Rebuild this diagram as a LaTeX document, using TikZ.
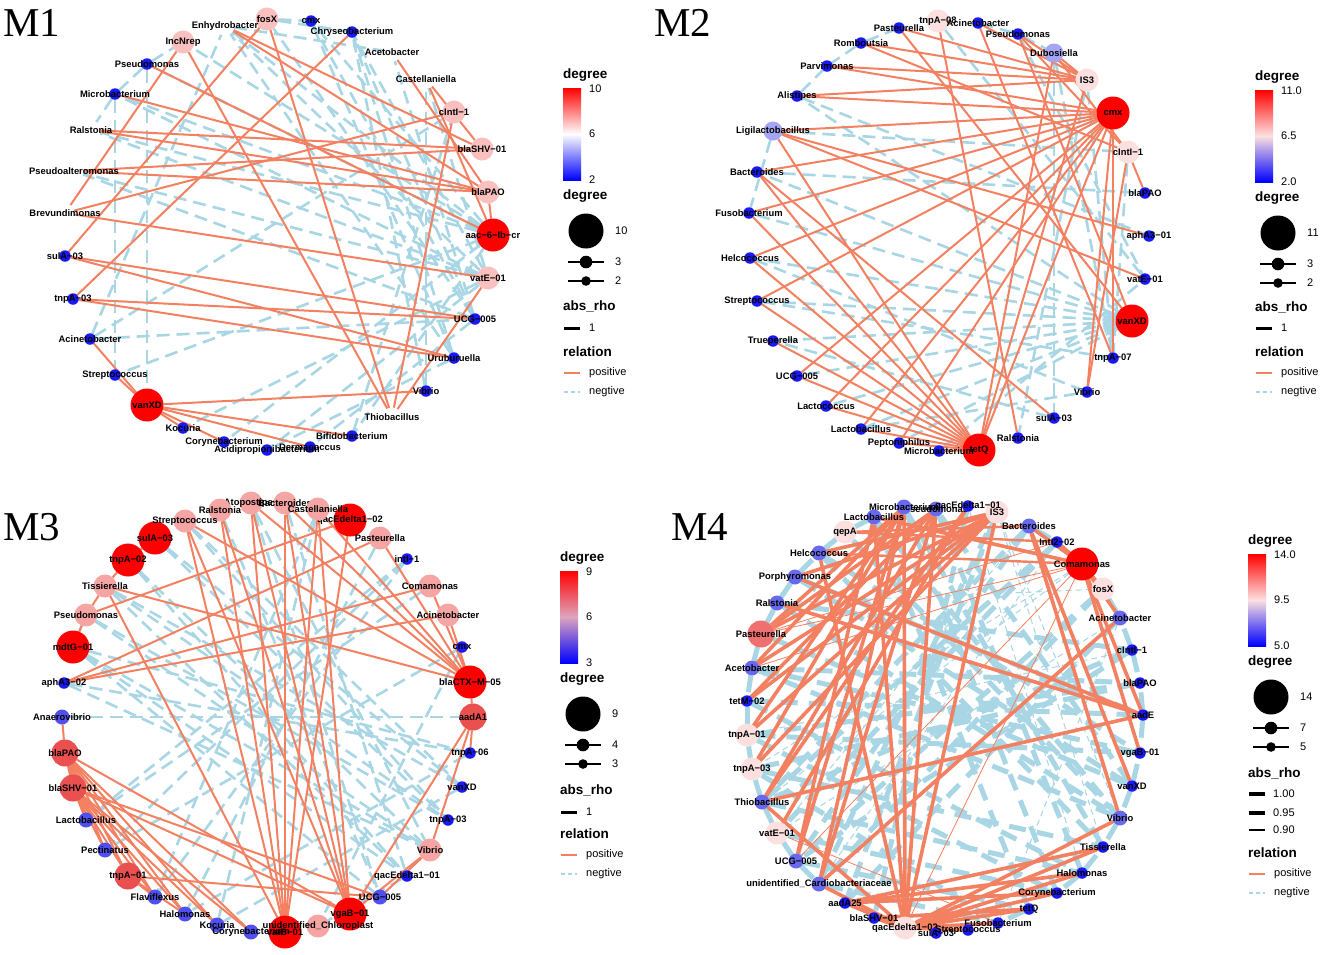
\documentclass[tikz,border=0pt]{standalone}
\usepackage{fontspec}
\setmainfont{Liberation Sans}
\newfontfamily\panelfont{Liberation Serif}
\usetikzlibrary{positioning}
\pgfdeclarelayer{background}
\pgfsetlayers{background,main}
\definecolor{posline}{RGB}{243,128,96}
\definecolor{negline}{RGB}{168,214,228}
\definecolor{nblue}{RGB}{25,25,245}
\definecolor{nblueB}{RGB}{80,80,240}
\definecolor{nlav}{RGB}{165,165,245}
\definecolor{nlavB}{RGB}{105,105,238}
\definecolor{npink}{RGB}{250,192,192}
\definecolor{npinkB}{RGB}{246,165,165}
\definecolor{npale}{RGB}{252,224,224}
\definecolor{nred}{RGB}{255,0,0}
\definecolor{nredB}{RGB}{234,80,80}
\definecolor{nredC}{RGB}{240,112,112}
\tikzset{
    vert/.style={circle, draw=none, inner sep=0pt, outer sep=0pt},
    n1/.style={vert, minimum size=11.5pt},
    n2/.style={vert, minimum size=15pt},
    n3/.style={vert, minimum size=19pt},
    n4/.style={vert, minimum size=23pt},
    n5/.style={vert, minimum size=27pt},
    n6/.style={vert, minimum size=33pt},
    lab/.style={font=\bfseries\fontsize{9.4}{10}\selectfont, inner sep=0pt, text=black},
    plink/.style={draw=posline, line width=2pt},
    nlink/.style={draw=negline, line width=2.6pt, dash pattern=on 13pt off 7pt},
    plinkW/.style={draw=posline, line width=3.6pt},
    plinkM/.style={draw=posline, line width=2.4pt},
    plinkT/.style={draw=posline, line width=0.8pt},
    nlinkW/.style={draw=negline, line width=5pt, dash pattern=on 17pt off 11pt},
    nlinkT/.style={draw=negline, line width=1pt, dash pattern=on 6pt off 4pt},
    keytitle/.style={anchor=west, inner sep=0pt, font=\bfseries\fontsize{13.5}{15}\selectfont},
    keynum/.style={anchor=west, inner sep=0pt, font=\fontsize{11}{12}\selectfont},
    paneltitle/.style={inner sep=0pt, font=\panelfont\fontsize{41}{45}\selectfont},
}
% colour bar and size key of one panel
\newcommand{\DegreeKey}[9]{%
    \node[keytitle] (#1deg) at (#2,#3) {degree};
    \shade[top color=nred, bottom color=blue, middle color=barmid] (#2,#3+13) rectangle (#2+18,#3+105);
    \node[keynum] (#1top) at (#2+26,#3+14) {#4};
    \node[keynum] (#1mid) at (#2+26,#3+59) {#5};
    \node[keynum] (#1bot) at (#2+26,#3+105) {#6};
    \node[keytitle] (#1size) at (#2,#3+121) {degree};
    \fill (#2+23,#3+156) circle (17.5pt);
    \node[keynum] (#1big) at (#2+52,#3+156) {#7};
    \draw[line width=1.2pt] (#2+5,#3+187) -- (#2+41,#3+187);
    \fill (#2+23,#3+187) circle (6.3pt);
    \node[keynum] (#1med) at (#2+52,#3+187) {#8};
    \draw[line width=1.2pt] (#2+5,#3+206) -- (#2+41,#3+206);
    \fill (#2+23,#3+206) circle (4.8pt);
    \node[keynum] (#1small) at (#2+52,#3+206) {#9};
}
\newcommand{\RelationKey}[3]{%
    \node[keytitle] (#1rel) at (#2,#3) {relation};
    \draw[posline, line width=1.3pt] (#2+1,#3+21) -- (#2+17,#3+21);
    \node[keynum] (#1pos) at (#2+26,#3+21) {positive};
    \draw[negline, line width=1.3pt, dash pattern=on 4pt off 3pt] (#2+1,#3+40) -- (#2+17,#3+40);
    \node[keynum] (#1neg) at (#2+26,#3+40) {negtive};
}

\begin{document}
\begin{tikzpicture}[x=1pt, y=-1pt]
    \useasboundingbox (0,0) rectangle (1325,954);
    \begin{pgfonlayer}{background}
      \fill[white] (0,0) rectangle (1325,954);
    \end{pgfonlayer}

    % ---------------- M1 ----------------
    \node[paneltitle] (m1name) at (32,23) {M1};
    \node[n6, fill=nred, label={[lab]center:aac−6−Ib−cr}] (m1aac) at (493,235) {};
    \node[n6, fill=nred, label={[lab]center:vanXD}] (m1vanXD) at (147,405) {};
    \node[n4, fill=npink, label={[lab]center:fosX}] (m1fosX) at (267,19) {};
    \node[n4, fill=npink, label={[lab]center:IncNrep}] (m1IncNrep) at (183,42) {};
    \node[n4, fill=npink, label={[lab]center:cIntI−1}] (m1cIntI) at (454,112) {};
    \node[n4, fill=npink, label={[lab]center:blaSHV−01}] (m1blaSHV) at (482,149) {};
    \node[n4, fill=npink, label={[lab]center:blaPAO}] (m1blaPAO) at (488,192) {};
    \node[n4, fill=npink, label={[lab]center:vatE−01}] (m1vatE) at (488,278) {};
    \node[n3, fill=white, label={[lab]center:Enhydrobacter}] (m1Enhydro) at (225,26) {};
    \node[n3, fill=white, label={[lab]center:Acetobacter}] (m1Acetob) at (392,52) {};
    \node[n3, fill=white, label={[lab]center:Castellaniella}] (m1Castel) at (426,79) {};
    \node[n3, fill=white, label={[lab]center:Ralstonia}] (m1Ralst) at (91,130) {};
    \node[n3, fill=white, label={[lab]center:Pseudoalteromonas}] (m1Pseudoalt) at (74,171) {};
    \node[n3, fill=white, label={[lab]center:Brevundimonas}] (m1Brevund) at (65,213) {};
    \node[n3, fill=white, label={[lab]center:Thiobacillus}] (m1Thiob) at (392,417) {};
    \node[n1, fill=nblue, label={[lab]center:cmx}] (m1cmx) at (311,21) {};
    \node[n1, fill=nblue, label={[lab]center:Chryseobacterium}] (m1Chryseo) at (352,32) {};
    \node[n1, fill=nblue, label={[lab]center:Pseudomonas}] (m1Pseudo) at (147,64) {};
    \node[n1, fill=nblue, label={[lab]center:Microbacterium}] (m1Microb) at (115,94) {};
    \node[n1, fill=nblue, label={[lab]center:sulA−03}] (m1sulA) at (65,256) {};
    \node[n1, fill=nblue, label={[lab]center:tnpA−03}] (m1tnpA03) at (73,299) {};
    \node[n1, fill=nblue, label={[lab]center:UCG−005}] (m1UCG) at (475,319) {};
    \node[n1, fill=nblue, label={[lab]center:Acinetobacter}] (m1Acineto) at (90,339) {};
    \node[n1, fill=nblue, label={[lab]center:Uruburuella}] (m1Urubu) at (454,358) {};
    \node[n1, fill=nblue, label={[lab]center:Streptococcus}] (m1Strepto) at (115,375) {};
    \node[n1, fill=nblue, label={[lab]center:Vibrio}] (m1Vibrio) at (426,391) {};
    \node[n1, fill=nblue, label={[lab]center:Kocuria}] (m1Kocuria) at (183,428) {};
    \node[n1, fill=nblue, label={[lab]center:Bifidobacterium}] (m1Bifido) at (352,436) {};
    \node[n1, fill=nblue, label={[lab]center:Corynebacterium}] (m1Coryne) at (224,442) {};
    \node[n1, fill=nblue, label={[lab]center:Dermacoccus}] (m1Derma) at (310,447) {};
    \node[n1, fill=nblue, label={[lab]center:Acidipropionibacterium}] (m1Acidi) at (267,450) {};

    \begin{pgfonlayer}{background}
      \path[nlink] (m1aac) edge (m1Pseudo) edge (m1Microb) edge (m1Ralst) edge (m1Enhydro) edge (m1cmx) edge (m1Strepto) edge (m1Bifido) edge (m1Coryne) edge (m1IncNrep);
      \path[nlink] (m1vatE) edge (m1Microb) edge (m1Chryseo) edge (m1Pseudoalt) edge (m1Acidi) edge (m1Kocuria) edge (m1Castel) edge (m1Enhydro) edge (m1Ralst);
      \path[nlink] (m1UCG) edge (m1Chryseo) edge (m1cmx) edge (m1Derma) edge (m1Acineto) edge (m1Acetob) edge (m1fosX) edge (m1Pseudoalt);
      \path[nlink] (m1Urubu) edge (m1cmx) edge (m1Acidi) edge (m1Enhydro) edge (m1Chryseo);
      \path[nlink] (m1Pseudo) edge (m1vanXD) edge (m1IncNrep) edge (m1Microb);
      \path[nlink] (m1Microb) edge (m1Strepto) edge (m1Ralst);
      \path[nlink] (m1Acineto) edge (m1cIntI) edge (m1Enhydro);
      \path[nlink] (m1Vibrio) edge (m1Castel) edge (m1Chryseo);
      \path[nlink] (m1fosX) edge (m1Chryseo) edge (m1cmx);
      \path[nlink] (m1Enhydro) edge (m1Acetob);
      \path[nlink] (m1Bifido) edge (m1cIntI);

      \path[plink] (m1Thiob) edge (m1IncNrep) edge (m1fosX) edge (m1cIntI) edge (m1vatE);
      \path[plink] (m1fosX) edge (m1sulA);
      \path[plink] (m1Chryseo) edge (m1tnpA03);
      \path[plink] (m1IncNrep) edge (m1Brevund);
      \path[plink] (m1Enhydro) edge (m1blaPAO) edge (m1blaSHV);
      \path[plink] (m1Acetob) edge (m1blaPAO);
      \path[plink] (m1Castel) edge (m1blaSHV) edge (m1aac);
      \path[plink] (m1Pseudo) edge (m1aac);
      \path[plink] (m1Microb) edge (m1blaPAO);
      \path[plink] (m1Ralst) edge (m1blaSHV) edge (m1blaPAO);
      \path[plink] (m1Pseudoalt) edge (m1blaSHV) edge (m1blaPAO);
      \path[plink] (m1Brevund) edge (m1cIntI) edge (m1vatE);
      \path[plink] (m1sulA) edge (m1UCG) edge (m1Urubu);
      \path[plink] (m1tnpA03) edge (m1UCG) edge (m1Urubu);
      \path[plink] (m1vanXD) edge (m1Acineto) edge (m1Strepto) edge (m1Vibrio) edge (m1Bifido) edge (m1Derma) edge (m1Kocuria) edge (m1Coryne);
      \path[plink] (m1aac) edge (m1blaPAO);
    \end{pgfonlayer}

    \colorlet{barmid}{white}
    \DegreeKey{m1k}{563}{75}{10}{6}{2}{10}{3}{2}
    \node[keytitle] (m1krho) at (563,306) {abs\_rho};
    \draw[line width=3pt] (564,328) -- (580,328);
    \node[keynum] (m1kone) at (589,328) {1};
    \RelationKey{m1k}{563}{352}

    % ---------------- M2 ----------------
    \node[paneltitle] (m2name) at (683,23) {M2};
    \node[n6, fill=nred, label={[lab]center:cmx}] (m2cmx) at (1113,113) {};
    \node[n6, fill=nred, label={[lab]center:vanXD}] (m2vanXD) at (1132,321) {};
    \node[n6, fill=nred, label={[lab]center:tetQ}] (m2tetQ) at (979,450) {};
    \node[n4, fill=npale, label={[lab]center:tnpA−08}] (m2tnpA08) at (938,21) {};
    \node[n4, fill=npale, label={[lab]center:IS3}] (m2IS3) at (1087,80) {};
    \node[n4, fill=npale, label={[lab]center:cIntI−1}] (m2cIntI) at (1128,152) {};
    \node[n3, fill=nlav, label={[lab]center:Dubosiella}] (m2Dubos) at (1054,53) {};
    \node[n3, fill=nlav, label={[lab]center:Ligilactobacillus}] (m2Ligilac) at (773,131) {};
    \node[n1, fill=nblue, label={[lab]center:Pasteurella}] (m2Paste) at (899,28) {};
    \node[n1, fill=nblue, label={[lab]center:Acinetobacter}] (m2Acineto) at (978,23) {};
    \node[n1, fill=nblue, label={[lab]center:Pseudomonas}] (m2Pseudo) at (1018,34) {};
    \node[n1, fill=nblue, label={[lab]center:Romboutsia}] (m2Rombo) at (861,43) {};
    \node[n1, fill=nblue, label={[lab]center:Parvimonas}] (m2Parvi) at (827,66) {};
    \node[n1, fill=nblue, label={[lab]center:Alistipes}] (m2Alist) at (797,96) {};
    \node[n1, fill=nblue, label={[lab]center:Bacteroides}] (m2Bactero) at (757,172) {};
    \node[n1, fill=nblue, label={[lab]center:blaPAO}] (m2blaPAO) at (1145,193) {};
    \node[n1, fill=nblue, label={[lab]center:Fusobacterium}] (m2Fuso) at (749,213) {};
    \node[n1, fill=nblue, label={[lab]center:aphA3−01}] (m2aphA3) at (1149,236) {};
    \node[n1, fill=nblue, label={[lab]center:Helcococcus}] (m2Helco) at (750,258) {};
    \node[n1, fill=nblue, label={[lab]center:vatE−01}] (m2vatE) at (1145,279) {};
    \node[n1, fill=nblue, label={[lab]center:Streptococcus}] (m2Strepto) at (757,301) {};
    \node[n1, fill=nblue, label={[lab]center:Trueperella}] (m2Truep) at (773,341) {};
    \node[n1, fill=nblue, label={[lab]center:tnpA−07}] (m2tnpA07) at (1113,358) {};
    \node[n1, fill=nblue, label={[lab]center:UCG−005}] (m2UCG) at (797,376) {};
    \node[n1, fill=nblue, label={[lab]center:Vibrio}] (m2Vibrio) at (1087,392) {};
    \node[n1, fill=nblue, label={[lab]center:Lactococcus}] (m2Lactoco) at (826,406) {};
    \node[n1, fill=nblue, label={[lab]center:sulA−03}] (m2sulA) at (1054,418) {};
    \node[n1, fill=nblue, label={[lab]center:Lactobacillus}] (m2Lactoba) at (861,429) {};
    \node[n1, fill=nblue, label={[lab]center:Ralstonia}] (m2Ralst) at (1018,438) {};
    \node[n1, fill=nblue, label={[lab]center:Peptoniphilus}] (m2Pepto) at (899,443) {};
    \node[n1, fill=nblue, label={[lab]center:Microbacterium}] (m2Microb) at (939,451) {};

    \begin{pgfonlayer}{background}
      \path[nlink] (m2vanXD) edge (m2Strepto) edge (m2Truep) edge (m2UCG) edge (m2Helco) edge (m2Fuso) edge (m2Bactero) edge (m2Lactoco) edge (m2Lactoba) edge (m2Pepto) edge (m2Alist);
      \path[nlink] (m2Rombo) edge (m2Paste) edge (m2Parvi);
      \path[nlink] (m2Alist) edge (m2Parvi) edge (m2aphA3);
      \path[nlink] (m2Pseudo) edge (m2Acineto) edge (m2Dubos) edge (m2vatE);
      \path[nlink] (m2Dubos) edge (m2sulA) edge (m2tnpA07);
      \path[nlink] (m2Ligilac) edge (m2cIntI) edge (m2Fuso);
      \path[nlink] (m2Bactero) edge (m2blaPAO);
      \path[nlink] (m2tnpA08) edge (m2vatE);
      \path[nlink] (m2IS3) edge (m2tnpA07) edge (m2Ralst);
      \path[nlink] (m2Microb) edge (m2vatE);
      \path[nlink] (m2Helco) edge (m2Vibrio);
      \path[nlink] (m2Strepto) edge (m2tnpA07);
      \path[nlink] (m2sulA) edge (m2Truep);
      \path[nlink] (m2Lactoba) edge (m2Vibrio);
      \path[nlink] (m2cIntI) edge (m2tnpA07);

      \path[plink] (m2cmx) edge (m2Alist) edge (m2Parvi) edge (m2Ligilac) edge (m2Bactero) edge (m2Fuso) edge (m2Helco) edge (m2Strepto) edge (m2UCG) edge (m2Lactoco) edge (m2Lactoba) edge (m2Pepto) edge (m2tnpA07) edge (m2Vibrio) edge (m2tetQ);
      \path[plink] (m2IS3) edge (m2Paste) edge (m2Rombo) edge (m2Parvi) edge (m2Alist) edge (m2Dubos) edge (m2Acineto) edge (m2Pseudo);
      \path[plink] (m2cIntI) edge (m2Rombo) edge (m2Pseudo) edge (m2Vibrio) edge (m2blaPAO) edge (m2Dubos);
      \path[plink] (m2tetQ) edge (m2Ligilac) edge (m2Fuso) edge (m2Helco) edge (m2Strepto) edge (m2Truep) edge (m2UCG) edge (m2Lactoco) edge (m2Lactoba) edge (m2Pepto) edge (m2Microb) edge (m2IS3) edge (m2Dubos) edge (m2Bactero);
      \path[plink] (m2tnpA08) edge (m2Ralst);
      \path[plink] (m2vanXD) edge (m2Paste) edge (m2Pseudo);
      \path[plink] (m2Ligilac) edge (m2aphA3) edge (m2vatE);
      \path[plink] (m2Bactero) edge (m2sulA);
      \path[plink] (m2Acineto) edge (m2tnpA07);
    \end{pgfonlayer}

    \colorlet{barmid}{npale}
    \DegreeKey{m2k}{1255}{77}{11.0}{6.5}{2.0}{11}{3}{2}
    \node[keytitle] (m2krho) at (1255,307) {abs\_rho};
    \draw[line width=3pt] (1256,328) -- (1272,328);
    \node[keynum] (m2kone) at (1281,328) {1};
    \RelationKey{m2k}{1255}{352}

    % ---------------- M3 ----------------
    \node[paneltitle] (m3name) at (32,527) {M3};
    \node[n6, fill=nred, label={[lab]center:qacEdelta1−02}] (m3qacE02) at (350,520) {};
    \node[n6, fill=nred, label={[lab]center:sulA−03}] (m3sulA) at (155,538) {};
    \node[n6, fill=nred, label={[lab]center:tnpA−02}] (m3tnpA02) at (128,560) {};
    \node[n6, fill=nred, label={[lab]center:mdtG−01}] (m3mdtG) at (73,647) {};
    \node[n6, fill=nred, label={[lab]center:blaCTX−M−05}] (m3blaCTX) at (470,682) {};
    \node[n6, fill=nred, label={[lab]center:vgaB−01}] (m3vgaB) at (350,914) {};
    \node[n6, fill=nred, label={[lab]center:vatB−01}] (m3vatB) at (285,932) {};
    \node[n5, fill=nredB, label={[lab]center:aadA1}] (m3aadA1) at (473,717) {};
    \node[n5, fill=nredB, label={[lab]center:blaPAO}] (m3blaPAO) at (65,753) {};
    \node[n5, fill=nredB, label={[lab]center:blaSHV−01}] (m3blaSHV) at (73,788) {};
    \node[n5, fill=nredB, label={[lab]center:tnpA−01}] (m3tnpA01) at (128,876) {};
    \node[n4, fill=npinkB, label={[lab]center:Atopostipes}] (m3Atopo) at (251,503) {};
    \node[n4, fill=npinkB, label={[lab]center:Bacteroides}] (m3Bactero) at (285,503) {};
    \node[n4, fill=npinkB, label={[lab]center:Ralstonia}] (m3Ralst) at (220,510) {};
    \node[n4, fill=npinkB, label={[lab]center:Castellaniella}] (m3Castel) at (318,509) {};
    \node[n4, fill=npinkB, label={[lab]center:Streptococcus}] (m3Strepto) at (185,521) {};
    \node[n4, fill=npinkB, label={[lab]center:Pasteurella}] (m3Paste) at (380,538) {};
    \node[n4, fill=npinkB, label={[lab]center:Tissierella}] (m3Tissi) at (105,586) {};
    \node[n4, fill=npinkB, label={[lab]center:Comamonas}] (m3Comam) at (430,586) {};
    \node[n4, fill=npinkB, label={[lab]center:Pseudomonas}] (m3Pseudo) at (86,615) {};
    \node[n4, fill=npinkB, label={[lab]center:Acinetobacter}] (m3Acineto) at (448,615) {};
    \node[n4, fill=npinkB, label={[lab]center:Vibrio}] (m3Vibrio) at (430,850) {};
    \node[n4, fill=npinkB, label={[lab]center:unidentified\_Chloroplast}] (m3Chloro) at (318,926) {};
    \node[n2, fill=nblueB, label={[lab]center:Anaerovibrio}] (m3Anaero) at (62,717) {};
    \node[n2, fill=nblueB, label={[lab]center:Lactobacillus}] (m3Lactob) at (86,820) {};
    \node[n2, fill=nblueB, label={[lab]center:Pectinatus}] (m3Pectin) at (105,850) {};
    \node[n2, fill=nblueB, label={[lab]center:Flaviflexus}] (m3Flavi) at (155,897) {};
    \node[n2, fill=nblueB, label={[lab]center:UCG−005}] (m3UCG) at (380,897) {};
    \node[n2, fill=nblueB, label={[lab]center:Halomonas}] (m3Halo) at (185,914) {};
    \node[n2, fill=nblueB, label={[lab]center:Kocuria}] (m3Kocuria) at (217,925) {};
    \node[n2, fill=nblueB, label={[lab]center:Corynebacterium}] (m3Coryne) at (251,932) {};
    \node[n1, fill=nblue, label={[lab]center:intI−1}] (m3intI) at (407,559) {};
    \node[n1, fill=nblue, label={[lab]center:cmx}] (m3cmx) at (462,647) {};
    \node[n1, fill=nblue, label={[lab]center:aphA3−02}] (m3aphA3) at (64,683) {};
    \node[n1, fill=nblue, label={[lab]center:tnpA−06}] (m3tnpA06) at (470,753) {};
    \node[n1, fill=nblue, label={[lab]center:vanXD}] (m3vanXD) at (462,787) {};
    \node[n1, fill=nblue, label={[lab]center:tnpA−03}] (m3tnpA03) at (448,820) {};
    \node[n1, fill=nblue, label={[lab]center:qacEdelta1−01}] (m3qacE01) at (407,876) {};

    \begin{pgfonlayer}{background}
      \path[nlink] (m3Anaero) edge (m3aadA1);
      \path[nlink] (m3mdtG) edge (m3Pseudo) edge (m3Vibrio) edge (m3UCG) edge (m3tnpA06) edge (m3qacE01);
      \path[nlink] (m3Pseudo) edge (m3tnpA03) edge (m3Vibrio);
      \path[nlink] (m3Tissi) edge (m3qacE01) edge (m3vanXD) edge (m3tnpA03);
      \path[nlink] (m3tnpA02) edge (m3Vibrio) edge (m3qacE01);
      \path[nlink] (m3sulA) edge (m3vanXD) edge (m3tnpA03);
      \path[nlink] (m3aphA3) edge (m3tnpA06) edge (m3Vibrio);
      \path[nlink] (m3Strepto) edge (m3tnpA03) edge (m3vanXD);
      \path[nlink] (m3Atopo) edge (m3Vibrio) edge (m3UCG);
      \path[nlink] (m3Bactero) edge (m3qacE01);
      \path[nlink] (m3Ralst) edge (m3UCG);
      \path[nlink] (m3Castel) edge (m3Kocuria) edge (m3Flavi);
      \path[nlink] (m3Paste) edge (m3Halo);
      \path[nlink] (m3intI) edge (m3Flavi) edge (m3Lactob) edge (m3Pectin);
      \path[nlink] (m3cmx) edge (m3Pectin) edge (m3Chloro);
      \path[nlink] (m3Comam) edge (m3Lactob);
      \path[nlink] (m3tnpA06) edge (m3Halo);
      \path[nlink] (m3vanXD) edge (m3Kocuria);
      \path[nlink] (m3qacE01) edge (m3Chloro);

      \path[plink] (m3vatB) edge (m3Strepto) edge (m3Ralst) edge (m3Atopo) edge (m3Bactero) edge (m3Castel) edge (m3qacE02) edge (m3Tissi);
      \path[plink] (m3vgaB) edge (m3Ralst) edge (m3Atopo) edge (m3Bactero) edge (m3Castel) edge (m3blaPAO) edge (m3blaSHV) edge (m3aadA1) edge (m3Vibrio) edge (m3Strepto);
      \path[plink] (m3blaCTX) edge (m3Strepto) edge (m3Bactero) edge (m3Castel) edge (m3Paste) edge (m3Tissi) edge (m3Comam) edge (m3Acineto) edge (m3aadA1) edge (m3Atopo);
      \path[plink] (m3aphA3) edge (m3Paste) edge (m3Comam) edge (m3Acineto);
      \path[plink] (m3Pseudo) edge (m3qacE02) edge (m3Tissi) edge (m3mdtG);
      \path[plink] (m3tnpA02) edge (m3sulA) edge (m3Tissi);
      \path[plink] (m3blaPAO) edge (m3Anaero) edge (m3blaSHV) edge (m3Lactob) edge (m3Pectin) edge (m3tnpA01) edge (m3Flavi) edge (m3Halo) edge (m3Kocuria) edge (m3Coryne);
      \path[plink] (m3blaSHV) edge (m3Lactob) edge (m3Pectin) edge (m3tnpA01) edge (m3Flavi) edge (m3Halo) edge (m3Kocuria) edge (m3Coryne) edge (m3UCG);
      \path[plink] (m3tnpA01) edge (m3Flavi) edge (m3Halo) edge (m3UCG);
      \path[plink] (m3aadA1) edge (m3tnpA06) edge (m3Vibrio);
      \path[plink] (m3Vibrio) edge (m3UCG);
    \end{pgfonlayer}

    \colorlet{barmid}{npinkB!70!nlav}
    \DegreeKey{m3k}{560}{558}{9}{6}{3}{9}{4}{3}
    \node[keytitle] (m3krho) at (560,790) {abs\_rho};
    \draw[line width=3pt] (561,812) -- (577,812);
    \node[keynum] (m3kone) at (586,812) {1};
    \RelationKey{m3k}{560}{834}

    % ---------------- M4 ----------------
    \node[paneltitle] (m4name) at (700,527) {M4};
    \node[n6, fill=nred, label={[lab]center:Comamonas}] (m4Comam) at (1082,564) {};
    \node[n5, fill=nredC, label={[lab]center:Pasteurella}] (m4Paste) at (761,634) {};
    \node[n4, fill=npale, label={[lab]center:IS3}] (m4IS3) at (997,512) {};
    \node[n4, fill=npale, label={[lab]center:qepA}] (m4qepA) at (845,532) {};
    \node[n4, fill=npale, label={[lab]center:fosX}] (m4fosX) at (1103,589) {};
    \node[n4, fill=npale, label={[lab]center:tnpA−01}] (m4tnpA01) at (747,735) {};
    \node[n4, fill=npale, label={[lab]center:tnpA−03}] (m4tnpA03) at (752,769) {};
    \node[n4, fill=npale, label={[lab]center:vatE−01}] (m4vatE) at (777,833) {};
    \node[n4, fill=npale, label={[lab]center:qacEdelta1−02}] (m4qacE02) at (905,928) {};
    \node[n2, fill=nlavB, label={[lab]center:Pseudomonas}] (m4Pseudo) at (936,509) {};
    \node[n2, fill=nlavB, label={[lab]center:Microbacterium}] (m4Microb) at (904,507) {};
    \node[n2, fill=nlavB, label={[lab]center:Lactobacillus}] (m4Lactob) at (874,517) {};
    \node[n2, fill=nlavB, label={[lab]center:Bacteroides}] (m4Bactero) at (1029,526) {};
    \node[n2, fill=nlavB, label={[lab]center:Helcococcus}] (m4Helco) at (819,553) {};
    \node[n2, fill=nlavB, label={[lab]center:Porphyromonas}] (m4Porph) at (795,577) {};
    \node[n2, fill=nlavB, label={[lab]center:Ralstonia}] (m4Ralst) at (777,603) {};
    \node[n2, fill=nlavB, label={[lab]center:Acinetobacter}] (m4Acineto) at (1120,618) {};
    \node[n2, fill=nlavB, label={[lab]center:Acetobacter}] (m4Acetob) at (752,668) {};
    \node[n2, fill=nlavB, label={[lab]center:Thiobacillus}] (m4Thiob) at (762,802) {};
    \node[n2, fill=nlavB, label={[lab]center:Vibrio}] (m4Vibrio) at (1120,818) {};
    \node[n2, fill=nlavB, label={[lab]center:UCG−005}] (m4UCG) at (796,861) {};
    \node[n2, fill=nlavB, label={[lab]center:unidentified\_Cardiobacteriaceae}] (m4Cardio) at (819,884) {};
    \node[n1, fill=nblue, label={[lab]center:qacEdelta1−01}] (m4qacE01) at (968,506) {};
    \node[n1, fill=nblue, label={[lab]center:IntI2−02}] (m4IntI2) at (1057,542) {};
    \node[n1, fill=nblue, label={[lab]center:cIntI−1}] (m4cIntI) at (1132,650) {};
    \node[n1, fill=nblue, label={[lab]center:blaPAO}] (m4blaPAO) at (1140,683) {};
    \node[n1, fill=nblue, label={[lab]center:tetM−02}] (m4tetM) at (747,701) {};
    \node[n1, fill=nblue, label={[lab]center:aadE}] (m4aadE) at (1143,715) {};
    \node[n1, fill=nblue, label={[lab]center:vgaB−01}] (m4vgaB) at (1140,753) {};
    \node[n1, fill=nblue, label={[lab]center:vanXD}] (m4vanXD) at (1132,786) {};
    \node[n1, fill=nblue, label={[lab]center:Tissierella}] (m4Tissi) at (1103,847) {};
    \node[n1, fill=nblue, label={[lab]center:Halomonas}] (m4Halo) at (1082,873) {};
    \node[n1, fill=nblue, label={[lab]center:Corynebacterium}] (m4Coryne) at (1057,893) {};
    \node[n1, fill=nblue, label={[lab]center:aadA25}] (m4aadA25) at (845,903) {};
    \node[n1, fill=nblue, label={[lab]center:tetQ}] (m4tetQ) at (1029,909) {};
    \node[n1, fill=nblue, label={[lab]center:blaSHV−01}] (m4blaSHV) at (874,918) {};
    \node[n1, fill=nblue, label={[lab]center:Fusobacterium}] (m4Fuso) at (998,923) {};
    \node[n1, fill=nblue, label={[lab]center:sulA−03}] (m4sulA) at (936,933) {};
    \node[n1, fill=nblue, label={[lab]center:Streptococcus}] (m4Strepto) at (968,930) {};

    \begin{pgfonlayer}{background}
      \path[nlinkW] (m4Porph) edge (m4Ralst) edge (m4Helco) edge (m4vanXD) edge (m4aadE);
      \path[nlinkW] (m4Ralst) edge (m4Paste) edge (m4Vibrio) edge (m4cIntI);
      \path[nlinkW] (m4Paste) edge (m4Acetob) edge (m4vanXD);
      \path[nlinkW] (m4Acetob) edge (m4tetM) edge (m4blaPAO) edge (m4Vibrio);
      \path[nlinkW] (m4tetM) edge (m4tnpA01) edge (m4aadE) edge (m4Halo);
      \path[nlinkW] (m4tnpA01) edge (m4tnpA03) edge (m4vgaB) edge (m4Coryne);
      \path[nlinkW] (m4tnpA03) edge (m4Thiob) edge (m4Tissi) edge (m4Fuso);
      \path[nlinkW] (m4Thiob) edge (m4vatE) edge (m4Halo);
      \path[nlinkW] (m4vatE) edge (m4UCG) edge (m4Coryne);
      \path[nlinkW] (m4UCG) edge (m4Cardio) edge (m4tetQ);
      \path[nlinkW] (m4Helco) edge (m4qepA) edge (m4vgaB) edge (m4Tissi);
      \path[nlinkW] (m4qepA) edge (m4Lactob) edge (m4Vibrio);
      \path[nlinkW] (m4cIntI) edge (m4blaPAO) edge (m4Acineto) edge (m4Thiob) edge (m4UCG);
      \path[nlinkW] (m4aadE) edge (m4blaPAO) edge (m4vgaB);
      \path[nlinkW] (m4vanXD) edge (m4vgaB) edge (m4Vibrio) edge (m4Pseudo);
      \path[nlinkW] (m4fosX) edge (m4Acineto) edge (m4UCG) edge (m4Cardio);
      \path[nlinkW] (m4Bactero) edge (m4IntI2) edge (m4UCG) edge (m4Thiob);
      \path[nlinkW] (m4Cardio) edge (m4Fuso) edge (m4IS3);
      \path[nlinkW] (m4Lactob) edge (m4Vibrio) edge (m4tetQ);
      \path[nlinkW] (m4Microb) edge (m4Tissi) edge (m4Coryne);
      \path[nlinkW] (m4Pseudo) edge (m4Halo);
      \path[nlinkW] (m4IntI2) edge (m4Thiob) edge (m4vatE);
      \path[nlinkW] (m4blaPAO) edge (m4tnpA01) edge (m4tnpA03);
      \path[nlinkW] (m4IS3) edge (m4aadA25);
      \path[nlinkW] (m4qacE01) edge (m4blaSHV);
      \path[nlinkW] (m4Acineto) edge (m4aadA25);
      \path[nlinkW] (m4vgaB) edge (m4Acetob);
      \path[nlinkW] (m4Vibrio) edge (m4Tissi);
      \path[nlinkW] (m4Halo) edge (m4Coryne) edge (m4Tissi);
      \path[nlinkW] (m4tetQ) edge (m4Fuso);
      \path[nlinkT] (m4Acineto) edge (m4vatE) edge (m4Fuso) (m4Comam) edge (m4tnpA03) edge (m4Thiob) (m4IS3) edge (m4Vibrio) edge (m4Tissi) (m4fosX) edge (m4Ralst) (m4qacE01) edge (m4Halo) (m4Bactero) edge (m4vatE) (m4IntI2) edge (m4Cardio) (m4cIntI) edge (m4tnpA01);

      \path[plinkW] (m4qacE02) edge (m4Tissi) edge (m4Halo) edge (m4Coryne) edge (m4tetQ) edge (m4Fuso) edge (m4Strepto) edge (m4Vibrio) edge (m4aadA25) edge (m4blaSHV) edge (m4Cardio) edge (m4Thiob) edge (m4Lactob) edge (m4Helco) edge (m4Microb) edge (m4IS3) edge (m4Pseudo);
      \path[plinkW] (m4IS3) edge (m4Paste) edge (m4Acetob) edge (m4tetM) edge (m4tnpA01) edge (m4Porph) edge (m4Helco) edge (m4tnpA03);
      \path[plinkW] (m4Microb) edge (m4Paste) edge (m4Acetob) edge (m4tnpA01) edge (m4tnpA03) edge (m4UCG) edge (m4Cardio);
      \path[plinkW] (m4Pseudo) edge (m4tetM) edge (m4Paste) edge (m4Thiob) edge (m4Cardio);
      \path[plinkW] (m4qacE01) edge (m4Thiob) edge (m4vatE);
      \path[plinkW] (m4Comam) edge (m4Bactero) edge (m4IntI2) edge (m4fosX) edge (m4Acineto) edge (m4vgaB) edge (m4aadE) edge (m4Lactob);
      \path[plinkW] (m4aadE) edge (m4Thiob) edge (m4Ralst) edge (m4Porph);
      \path[plinkW] (m4Bactero) edge (m4vanXD) edge (m4Vibrio);
      \path[plinkW] (m4aadA25) edge (m4Halo) edge (m4Coryne) edge (m4Tissi);
      \path[plinkW] (m4blaSHV) edge (m4tetQ);
      \path[plinkW] (m4Acineto) edge (m4Cardio);
      \path[plinkW] (m4Lactob) edge (m4UCG);
      \path[plinkM] (m4qepA) edge (m4Bactero) edge (m4IntI2);
      \path[plinkM] (m4Helco) edge (m4Comam);
      \path[plinkT] (m4Comam) edge (m4Paste) edge (m4Acetob) edge (m4qacE02) edge (m4UCG);
      \path[plinkT] (m4vatE) edge (m4Fuso);
      \path[plinkT] (m4Paste) edge (m4IntI2);
    \end{pgfonlayer}

    \colorlet{barmid}{npale}
    \DegreeKey{m4k}{1248}{541}{14.0}{9.5}{5.0}{14}{7}{5}
    \node[keytitle] (m4krho) at (1248,773) {abs\_rho};
    \draw[line width=4.5pt] (1249,794) -- (1265,794);
    \node[keynum] (m4kone) at (1273,794) {1.00};
    \draw[line width=3.5pt] (1249,813) -- (1265,813);
    \node[keynum] (m4ktwo) at (1273,813) {0.95};
    \draw[line width=2.5pt] (1249,830) -- (1265,830);
    \node[keynum] (m4kthree) at (1273,830) {0.90};
    \RelationKey{m4k}{1248}{853}
\end{tikzpicture}
\end{document}
